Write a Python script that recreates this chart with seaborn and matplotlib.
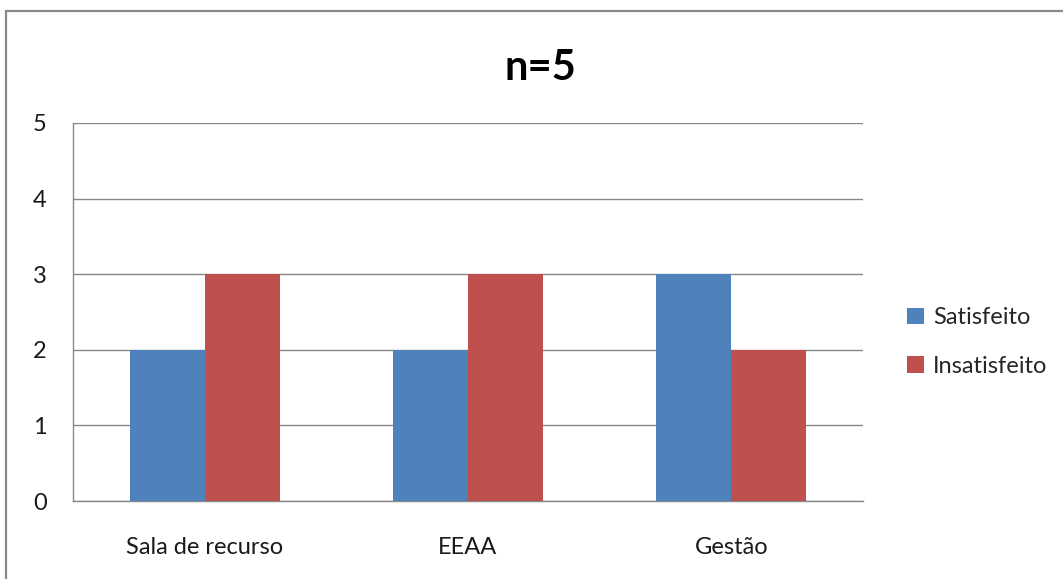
import matplotlib
matplotlib.use("Agg")
import matplotlib.pyplot as plt
from matplotlib.patches import Rectangle
import seaborn as sns
import pandas as pd

categories = ["Sala de recurso", "EEAA", "Gestão"]
satisfeito = [2, 2, 3]
insatisfeito = [3, 3, 2]
series_names = ["Satisfeito", "Insatisfeito"]
title = "n=5"

df = pd.DataFrame({
    "cat": categories * 2,
    "val": satisfeito + insatisfeito,
    "serie": [series_names[0]] * 3 + [series_names[1]] * 3,
})

sns.set_theme(style="white")
plt.rcParams["font.family"] = ["Lato", "DejaVu Sans"]

W, H = 1063, 579
fig = plt.figure(figsize=(W / 100, H / 100), dpi=100)
ax = fig.add_axes([73 / W, 1 - 501 / H, (863 - 73) / W, (501 - 123) / H])

sns.barplot(data=df, x="cat", y="val", hue="serie", order=categories,
            hue_order=series_names, palette=["#4F81BD", "#C0504D"],
            width=0.57, saturation=1, ax=ax, legend=True, zorder=3,
            linewidth=0)

ax.set_ylim(0, 5)
ax.set_yticks(range(0, 6))
ax.set_xlim(-0.5, 2.5)
ax.yaxis.grid(True, color="#888888", linewidth=1.0, zorder=0)
ax.set_axisbelow(True)
ax.set_xlabel("")
ax.set_ylabel("")
for s in ["top", "right"]:
    ax.spines[s].set_visible(False)
for s in ["left", "bottom"]:
    ax.spines[s].set_color("#888888")
    ax.spines[s].set_linewidth(1.0)
ax.tick_params(axis="both", length=0, labelsize=17, colors="#1a1a1a")
ax.tick_params(axis="y", pad=19)
ax.tick_params(axis="x", pad=26)

fig.text(540 / W, 1 - 68 / H, title, ha="center", va="center",
         fontsize=30, fontweight="bold", color="black")

leg = ax.legend(loc="center left", bbox_to_anchor=(886 / W, 1 - 342 / H),
                bbox_transform=fig.transFigure, frameon=False, fontsize=17,
                handlelength=0.7, handleheight=0.7, handletextpad=0.4,
                labelspacing=1.15)

fig.add_artist(Rectangle((6 / W, -0.1), 2, 0.1 + 1 - 11 / H, transform=fig.transFigure,
                         fill=False, edgecolor="#8a8a8a", linewidth=1.6))

fig.savefig("out.png", dpi=100, facecolor="white")
